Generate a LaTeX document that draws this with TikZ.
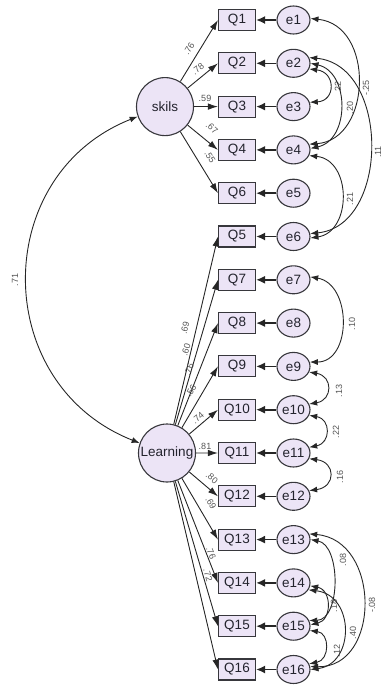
\documentclass[tikz,border=0pt]{standalone}
\usepackage{fontspec}
\setmainfont{Liberation Sans}
\usetikzlibrary{arrows.meta,shapes.geometric}
\definecolor{nodefill}{RGB}{236,228,246}
\definecolor{nodeline}{RGB}{55,55,60}
\definecolor{nodetext}{RGB}{35,35,45}
\definecolor{lbl}{RGB}{85,85,85}

\begin{document}
\begin{tikzpicture}[x=1pt,y=-1pt,
  nodefont/.style={font=\fontsize{13.5}{14}\selectfont, text=nodetext},
  obs/.style={nodefont, draw=nodeline, fill=nodefill, line width=1.1pt, rectangle,
    minimum width=37pt, minimum height=21pt, inner sep=0pt},
  err/.style={nodefont, draw=nodeline, fill=nodefill, line width=1.1pt, ellipse,
    minimum width=33pt, minimum height=28pt, inner sep=0pt},
  lat/.style={nodefont, draw=nodeline, fill=nodefill, line width=1.1pt, ellipse,
    minimum width=57pt, minimum height=58pt, inner sep=0pt},
  load/.style={-{Latex[length=10pt,width=6.5pt]}, line width=0.9pt, draw=black!85},
  errarr/.style={-{Latex[length=9pt,width=8pt]}, line width=1.6pt, draw=black!85},
  cov/.style={{Latex[length=8pt,width=6pt]}-{Latex[length=8pt,width=6pt]},
    line width=0.9pt, draw=black!85},
  wt/.style={font=\fontsize{9}{9}\selectfont, text=lbl, inner sep=0pt},
  cvl/.style={font=\fontsize{9}{9}\selectfont, text=lbl, rotate=90, inner sep=0pt}]

\useasboundingbox (0,0) rectangle (382,686);

% observed items and their error terms, one row every 43.3pt
\foreach \q/\e/\k in {Q1/e1/0, Q2/e2/1, Q3/e3/2, Q4/e4/3, Q6/e5/4, Q5/e6/5,
    Q7/e7/6, Q8/e8/7, Q9/e9/8, Q10/e10/9, Q11/e11/10, Q12/e12/11,
    Q13/e13/12, Q14/e14/13, Q15/e15/14, Q16/e16/15} {
  \node[obs] (\q) at (237,{20+43.3*\k}) {\q};
  \node[err] (\e) at (293.5,{20+43.3*\k}) {\e};
  \draw[errarr] (\e) -- (\q);
}

% latent factors
\node[lat] (skils) at (165,106.6) {skils};
\node[lat] (Learning) at (167,453) {\makebox[0pt]{Learning}};

% factor covariance
\draw[cov] (skils.200) .. controls (-10,175) and (-10,384) .. (Learning.160);
\node[cvl] (c12) at (15,280) {.71};

% loadings of skils
\foreach \q in {Q1,Q2,Q3,Q4,Q6} {\draw[load] (skils) -- (\q.west);}
\node[wt, rotate=58]  (w1) at (189,49)  {.76};
\node[wt, rotate=38]  (w2) at (198,69)  {.78};
\node[wt]             (w3) at (205,98)  {.59};
\node[wt, rotate=-40] (w4) at (212,128) {.67};
\node[wt, rotate=-58] (w6) at (210,157) {.55};

% loadings of Learning
\foreach \q in {Q5,Q7,Q8,Q9,Q10,Q11,Q12,Q13,Q14,Q15,Q16} {\draw[load] (Learning) -- (\q.west);}
\node[wt, rotate=77]  (w5)  at (185,328) {.69};
\node[wt, rotate=73]  (w7)  at (186,350) {.60};
\node[wt, rotate=69]  (w8)  at (189,370) {.76};
\node[wt, rotate=60]  (w9)  at (191,391) {.56};
\node[wt, rotate=40]  (w10) at (198,418) {.74};
\node[wt]             (w11) at (205,446) {.81};
\node[wt, rotate=-40] (w12) at (212,478) {.80};
\node[wt, rotate=-60] (w13) at (211,503) {.69};
\node[wt, rotate=-68] (w14) at (211,553) {.76};
\node[wt, rotate=-73] (w15) at (208,575) {.72};

% error covariances, first block
\draw[cov] (e1.5) .. controls (375,25) and (372,140) .. (e4.20);
\node[cvl] (c14) at (366,88) {-.25};
\draw[cov] (e2.-20) .. controls (336,72) and (336,101) .. (e3.15);
\node[cvl] (c23) at (338,88) {.22};
\draw[cov] (e2.0) .. controls (350,72) and (350,140) .. (e4.5);
\node[cvl] (c24) at (350,108) {.20};
\draw[cov] (e2.20) .. controls (390,65) and (390,226) .. (e6.10);
\node[cvl] (c26) at (378,152) {.11};
\draw[cov] (e4.-20) .. controls (352,160) and (352,232) .. (e6.-5);
\node[cvl] (c46) at (350,199) {.21};

% error covariances, second block
\draw[cov] (e7.10) .. controls (352,284) and (352,362) .. (e9.15);
\node[cvl] (c79) at (352,324) {.10};
\draw[cov] (e9.-20) .. controls (333,376) and (333,400) .. (e10.20);
\node[cvl] (c910) at (339,391) {.13};
\draw[cov] (e10.-20) .. controls (331,419) and (331,443) .. (e11.20);
\node[cvl] (c1011) at (336,432) {.22};
\draw[cov] (e11.-20) .. controls (336,462) and (336,487) .. (e12.20);
\node[cvl] (c1112) at (340,477) {.16};

% error covariances, third block
\draw[cov] (e13.0) .. controls (341,545) and (341,620) .. (e15.20);
\node[cvl] (c1315) at (343,560) {.08};
\draw[cov] (e13.20) .. controls (381,540) and (381,668) .. (e16.10);
\node[cvl] (c1316) at (372,605) {-.08};
\draw[cov] (e14.-10) .. controls (332,590) and (332,620) .. (e15.5);
\node[cvl] (c1415) at (334,606) {.18};
\draw[cov] (e14.-25) .. controls (355,595) and (355,664) .. (e16.0);
\node[cvl] (c1416) at (353,633) {.40};
\draw[cov] (e15.-15) .. controls (330,633) and (330,660) .. (e16.20);
\node[cvl] (c1516) at (337,651) {.12};
\end{tikzpicture}
\end{document}
